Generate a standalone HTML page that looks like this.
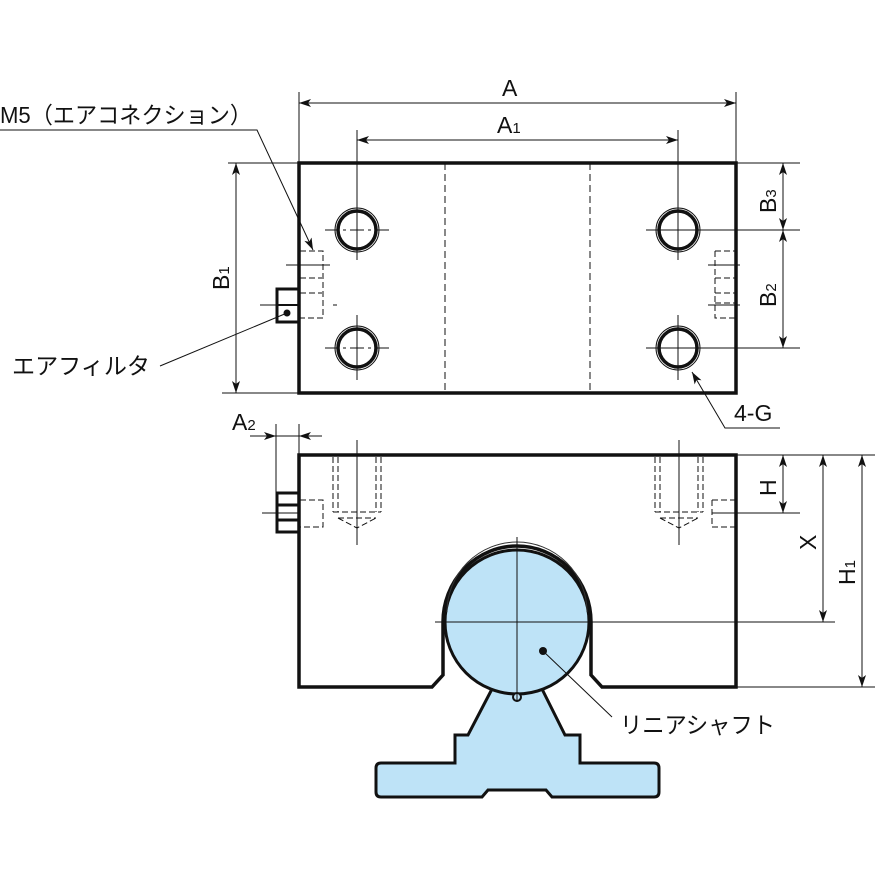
<!DOCTYPE html>
<html><head><meta charset="utf-8"><style>
html,body{margin:0;padding:0;background:#fff;}
svg{display:block;}
text{font-family:"Liberation Sans","Noto Sans CJK JP",sans-serif;fill:#111;}
</style></head><body>
<svg width="875" height="875" viewBox="0 0 875 875" xmlns="http://www.w3.org/2000/svg">
<defs>
<marker id="ar2" viewBox="0 0 12 8" refX="12" refY="4" markerWidth="12" markerHeight="8" orient="auto-start-reverse" markerUnits="userSpaceOnUse"><path d="M0,0 L12,4 L0,8 L3,4 Z" fill="#111"/></marker>
</defs>
<g stroke="#111" fill="none">
<!-- TOP VIEW -->
<rect x="299" y="163" width="437" height="230" stroke-width="3.5"/>
<line x1="445" y1="163" x2="445" y2="393" stroke-width="1" stroke-dasharray="7,4"/>
<line x1="590" y1="163" x2="590" y2="393" stroke-width="1" stroke-dasharray="7,4"/>
<circle cx="357" cy="230" r="22" stroke-width="1"/><circle cx="357" cy="230" r="19" stroke-width="3.5"/>
<circle cx="357" cy="348" r="22" stroke-width="1"/><circle cx="357" cy="348" r="19" stroke-width="3.5"/>
<circle cx="678" cy="230" r="22" stroke-width="1"/><circle cx="678" cy="230" r="19" stroke-width="3.5"/>
<circle cx="678" cy="348" r="22" stroke-width="1"/><circle cx="678" cy="348" r="19" stroke-width="3.5"/>
<g stroke-width="1">
<line x1="357" y1="130" x2="357" y2="260"/><line x1="325" y1="230" x2="389" y2="230" stroke-dasharray="14,4,3,4"/>
<line x1="357" y1="315" x2="357" y2="380"/><line x1="325" y1="348" x2="389" y2="348" stroke-dasharray="14,4,3,4"/>
<line x1="678" y1="130" x2="678" y2="260"/><line x1="646" y1="230" x2="800" y2="230"/>
<line x1="678" y1="315" x2="678" y2="380"/><line x1="646" y1="348" x2="800" y2="348"/>
</g>
<g stroke-width="1" stroke-dasharray="6,3">
<path d="M300,251 H323 V318 H300"/>
<line x1="300" y1="278" x2="322" y2="278"/><line x1="300" y1="293" x2="322" y2="293"/>
<path d="M715,251 H735 M715,251 V318 H735 M715,278 H735 M715,293 H735 M715,303 H735"/>
</g>
<line x1="286" y1="265" x2="330" y2="265" stroke-width="1"/>
<line x1="260" y1="305" x2="300" y2="305" stroke-width="1"/>
<line x1="333" y1="305" x2="337" y2="305" stroke-width="1"/>
<line x1="708" y1="265" x2="740" y2="265" stroke-width="1"/>
<line x1="708" y1="305" x2="740" y2="305" stroke-width="1"/>
<rect x="277" y="289" width="22" height="33" stroke-width="3"/>
<line x1="277" y1="305" x2="299" y2="305" stroke-width="2"/>
<!-- BOTTOM VIEW -->
<path d="M443,622 V675 L432,687 H299 V455 H736 V687 H602 L591,675 V622" stroke-width="3.5" stroke-linejoin="miter"/>
<g stroke-width="1" stroke-dasharray="6,3">
<path d="M333,457 V512 M338,457 V512 M376,457 V512 M381,457 V512 M333,512 H381 M338,518 H376 M338,518 L357,528 L376,518"/>
<path d="M655,457 V512 M660,457 V512 M698,457 V512 M703,457 V512 M655,512 H703 M660,518 H698 M660,518 L679,528 L698,518"/>
<path d="M300,500 H323 V527 H300 M712,500 H735 M712,500 V527 H735"/>
</g>
<line x1="357" y1="440" x2="357" y2="545" stroke-width="1"/>
<line x1="679" y1="440" x2="679" y2="545" stroke-width="1"/>
<path d="M277,493 H299 V532 H277 Z M277,505 H299 M277,520 H299" stroke-width="3"/>
<line x1="262" y1="513" x2="300" y2="513" stroke-width="1"/>
<line x1="712" y1="513" x2="800" y2="513" stroke-width="1"/>
<!-- support -->
<path d="M492,689 L468,735 H455 V763 H381 Q376,763 376,768 V792 Q376,797 381,797 H482 L488,790 H546 L552,797 H654 Q659,797 659,792 V768 Q659,763 654,763 H580 V735 H565 L542,689 Z" fill="#bee3f7" stroke-width="3"/>
<circle cx="517" cy="622" r="72" fill="#bee3f7" stroke-width="3"/>
<path d="M443,622 A74,76 0 0 1 591,622" stroke-width="3.5"/>
<path d="M447,612 A70,70 0 0 1 587,612" stroke-width="1" stroke="#333"/>
<circle cx="517" cy="697" r="4" stroke-width="2" fill="#bee3f7"/>
<line x1="517" y1="537" x2="517" y2="702" stroke-width="1"/>
<line x1="435" y1="622" x2="835" y2="622" stroke-width="1"/>
<!-- DIMENSIONS -->
<g stroke-width="1">
<line x1="299" y1="92" x2="299" y2="163"/><line x1="736" y1="92" x2="736" y2="163"/>
<line x1="299" y1="103" x2="736" y2="103" marker-start="url(#ar2)" marker-end="url(#ar2)"/>
<line x1="357" y1="140" x2="678" y2="140" marker-start="url(#ar2)" marker-end="url(#ar2)"/>
<line x1="228" y1="163" x2="299" y2="163"/><line x1="222" y1="393" x2="299" y2="393"/>
<line x1="236" y1="163" x2="236" y2="393" marker-start="url(#ar2)" marker-end="url(#ar2)"/>
<line x1="736" y1="163" x2="800" y2="163"/>
<line x1="783" y1="163" x2="783" y2="230" marker-start="url(#ar2)" marker-end="url(#ar2)"/>
<line x1="783" y1="230" x2="783" y2="348" marker-start="url(#ar2)" marker-end="url(#ar2)"/>
<line x1="736" y1="455" x2="875" y2="455"/><line x1="736" y1="687" x2="875" y2="687"/>
<line x1="783" y1="455" x2="783" y2="513" marker-start="url(#ar2)" marker-end="url(#ar2)"/>
<line x1="823" y1="455" x2="823" y2="622" marker-start="url(#ar2)" marker-end="url(#ar2)"/>
<line x1="862" y1="455" x2="862" y2="687" marker-start="url(#ar2)" marker-end="url(#ar2)"/>
<line x1="276" y1="424" x2="276" y2="493"/><line x1="299" y1="424" x2="299" y2="455"/>
<line x1="250" y1="436" x2="276" y2="436" marker-end="url(#ar2)"/>
<line x1="322" y1="436" x2="299" y2="436" marker-end="url(#ar2)"/>
<line x1="276" y1="436" x2="299" y2="436"/>
<path d="M0,130 H257 L313,250" marker-end="url(#ar2)"/>
<line x1="160" y1="366" x2="287" y2="313"/>
<path d="M780,428 H725 L692,372" marker-end="url(#ar2)"/>
<line x1="612" y1="717" x2="543" y2="651"/>
</g>
<circle cx="287" cy="313" r="3.5" fill="#111" stroke="none"/>
<circle cx="543" cy="651" r="4" fill="#111" stroke="none"/>
</g>
<g font-size="23">
<text x="502" y="96">A</text>
<text x="497" y="133">A<tspan font-size="15">1</tspan></text>
<text x="0" y="123" textLength="252" lengthAdjust="spacingAndGlyphs">M5（エアコネクション）</text>
<text x="12" y="374" textLength="138" lengthAdjust="spacingAndGlyphs">エアフィルタ</text>
<text x="232" y="430">A<tspan font-size="15">2</tspan></text>
<text x="734" y="421">4-G</text>
<text x="620" y="733" textLength="155" lengthAdjust="spacingAndGlyphs">リニアシャフト</text>
<text transform="translate(229,290) rotate(-90)">B<tspan font-size="15">1</tspan></text>
<text transform="translate(776,213) rotate(-90)">B<tspan font-size="15">3</tspan></text>
<text transform="translate(776,307) rotate(-90)">B<tspan font-size="15">2</tspan></text>
<text transform="translate(776,496) rotate(-90)">H</text>
<text transform="translate(816,550) rotate(-90)">X</text>
<text transform="translate(855,585) rotate(-90)">H<tspan font-size="15">1</tspan></text>
</g>
</svg>
</body></html>
